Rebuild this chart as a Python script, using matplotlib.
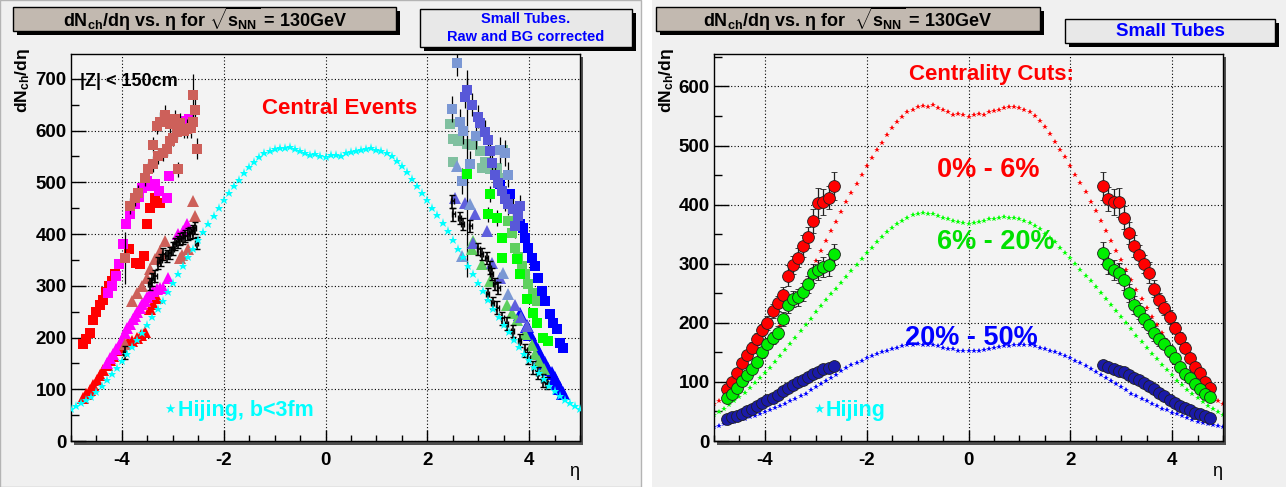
import matplotlib
matplotlib.use('Agg')
import matplotlib.pyplot as plt
from matplotlib.patches import Rectangle
import numpy as np

plt.rcParams['font.family'] = ['Liberation Sans', 'DejaVu Sans']
plt.rcParams['mathtext.fontset'] = 'custom'
plt.rcParams['mathtext.rm'] = 'Liberation Sans'
plt.rcParams['mathtext.bf'] = 'Liberation Sans:bold'
plt.rcParams['mathtext.default'] = 'bf'
plt.rcParams['axes.unicode_minus'] = False

# ---------------- data ----------------
# Hijing curves, eta = -5 .. 5 step 0.1
hij_eta = np.round(np.arange(-5, 5.001, 0.1), 1)
hij_central = [62, 67, 73, 79, 86, 95, 106, 118, 130, 142,
               155, 168, 181, 195, 209, 224, 239, 255, 271, 288,
               305, 322, 338, 355, 371, 388, 404, 420, 435, 450,
               465, 479, 492, 505, 518, 530, 540, 549, 556, 561,
               565, 567, 566, 568, 564, 560, 557, 552, 554, 551,
               549,
               552, 553, 551, 556, 558, 561, 563, 565, 566, 563,
               561, 557, 550, 541, 531, 519, 506, 493, 480, 466,
               451, 436, 421, 405, 389, 372, 356, 339, 322, 306,
               289, 272, 256, 240, 225, 210, 196, 182, 169, 156,
               143, 131, 119, 107, 96, 87, 80, 74, 68, 62]
hij_mid = [44, 49, 55, 61, 68, 75, 82, 90, 98, 106,
           115, 124, 134, 144, 154, 165, 175, 186, 197, 207,
           218, 228, 238, 248, 258, 268, 278, 288, 298, 308,
           318, 327, 336, 345, 353, 360, 367, 373, 378, 382,
           385, 386, 384, 385, 381, 378, 376, 372, 370, 369,
           368,
           369, 371, 373, 375, 376, 378, 379, 378, 377, 375,
           373, 369, 364, 358, 351, 344, 336, 327, 318, 309,
           300, 290, 280, 270, 260, 250, 240, 230, 220, 210,
           199, 189, 178, 168, 158, 148, 138, 129, 120, 111,
           102, 94, 86, 79, 72, 66, 60, 54, 49, 44]
hij_per = [24, 26, 28, 30, 32, 35, 37, 40, 43, 46,
           49, 52, 56, 59, 63, 67, 71, 76, 80, 86,
           92, 97, 102, 107, 112, 118, 123, 128, 132, 136,
           140, 144, 147, 150, 153, 156, 158, 160, 162, 163,
           164, 163, 163, 162, 160, 158, 156, 155, 153, 152,
           152,
           152, 153, 154, 156, 157, 159, 160, 161, 162, 163,
           163, 162, 160, 158, 156, 153, 150, 147, 144, 140,
           136, 132, 127, 122, 117, 112, 107, 102, 97, 92,
           86, 80, 76, 71, 67, 63, 59, 55, 52, 48,
           45, 42, 39, 36, 33, 31, 29, 27, 25, 23]

# left panel, eta < 0
red_sq_eta = [-4.77, -4.70, -4.63, -4.56, -4.50, -4.44, -4.38, -4.32, -4.26, -4.20, -4.14,
              -3.86, -3.72, -3.65, -3.56, -3.50, -3.45, -3.35, -3.26]
red_sq_val = [188, 198, 208, 233, 250, 263, 272, 288, 300, 310, 322,
              372, 345, 342, 358, 420, 450, 469, 460]
mag_sq_eta = [-4.27, -4.20, -4.12, -4.05, -3.97, -3.91, -3.84, -3.74, -3.66, -3.61, -3.51,
              -3.42, -3.35, -3.28, -3.12, -3.08, -2.80, -2.68]
mag_sq_val = [287, 300, 318, 342, 380, 419, 438, 458, 472, 489, 502,
              492, 496, 483, 469, 512, 618, 622]
brn_sq_eta = [-3.93, -3.84, -3.74, -3.69, -3.55, -3.49, -3.39, -3.39, -3.31, -3.29, -3.25, -3.19,
              -3.16, -3.12, -3.06, -3.05, -3.00, -2.95, -2.92, -2.90, -2.85, -2.78, -2.72,
              -2.65, -2.60, -2.57, -2.53, -2.60]
brn_sq_val = [354, 454, 469, 479, 508, 525, 535, 573, 608, 550, 617, 556,
              631, 565, 579, 612, 585, 622, 598, 525, 615, 600, 604,
              605, 617, 640, 565, 669]
brn_sq_err = [50, 15, 15, 15, 15, 15, 15, 15, 15, 15, 18, 15,
              18, 15, 15, 18, 15, 18, 15, 15, 18, 15, 18,
              20, 20, 22, 20, 40]
red_tri_eta = [-4.77, -4.70, -4.63, -4.56, -4.49, -4.43, -4.37, -4.30, -4.24, -4.17, -4.10,
               -4.04, -3.98, -3.88, -3.80, -3.71, -3.62, -3.55, -3.45, -3.38, -3.31]
red_tri_val = [83, 90, 98, 108, 117, 127, 137, 146, 156, 165, 175,
               182, 188, 192, 194, 200, 205, 210, 255, 265, 277]
mag_tri_eta = [-4.29, -4.24, -4.18, -4.11, -4.04, -3.99, -3.94, -3.89, -3.84, -3.79, -3.74,
               -3.70, -3.65, -3.60, -3.55, -3.50, -3.45, -3.38, -3.31, -3.25, -3.19, -3.10,
               -2.90, -2.80, -2.72]
mag_tri_val = [150, 160, 169, 178, 188, 198, 208, 218, 227, 235, 242,
               250, 258, 265, 271, 278, 285, 290, 294, 295, 296, 315,
               400, 406, 419]
brn_tri_eta = [-3.94, -3.80, -3.71, -3.61, -3.51, -3.45, -3.35, -3.25, -3.25, -3.16,
               -2.86, -2.82, -2.70, -2.60, -2.57]
brn_tri_val = [188, 271, 287, 300, 315, 332, 352, 367, 361, 387,
               354, 360, 371, 463, 435]
blk_l_eta = [-3.94, -3.45, -3.40, -3.35, -3.29, -3.24, -3.19, -3.12, -3.06, -3.00,
             -2.96, -2.90, -2.86, -2.80, -2.76, -2.70, -2.66, -2.61, -2.57, -2.53]
blk_l_val = [171, 304, 312, 319, 344, 350, 361, 358, 363, 372,
             381, 385, 390, 392, 396, 400, 402, 405, 412, 383]

# left panel, eta > 0
blu_sq_eta = [3.43, 3.62, 3.82, 3.88, 3.92, 3.98, 4.05, 4.11, 4.17, 4.25, 4.31, 4.41,
              4.47, 4.55, 4.61, 4.67]
blu_sq_val = [496, 477, 419, 412, 392, 373, 354, 338, 315, 290, 271, 246,
              229, 217, 190, 179]
sla_sq_eta = [2.74, 2.78, 2.88, 3.00, 3.03, 3.13, 3.19, 3.23, 3.27, 3.33, 3.39, 3.47,
              3.53, 3.59, 3.69, 3.72, 3.78, 3.82]
sla_sq_val = [665, 679, 650, 627, 614, 598, 582, 560, 537, 515, 498, 483,
              467, 458, 448, 415, 435, 454]
lsb_sq_eta = [2.58, 2.49, 2.64, 2.68, 2.70, 2.84, 2.95, 3.43, 3.53, 3.59]
lsb_sq_val = [731, 642, 617, 502, 600, 535, 590, 563, 556, 515]
lim_sq_eta = [2.78, 3.23, 3.19, 3.37, 3.47, 3.47, 3.76, 3.82, 3.96, 4.08, 4.16, 4.27, 4.37]
lim_sq_val = [517, 477, 438, 431, 392, 354, 352, 323, 275, 248, 229, 200, 194]
lim_sq_err = [200, 15, 15, 15, 0, 0, 0, 0, 0, 0, 0, 0, 0]
mgr_sq_eta = [3.59, 3.66, 3.72, 3.79, 3.86, 3.92, 3.98, 4.08, 4.16]
mgr_sq_val = [425, 402, 373, 355, 338, 323, 304, 287, 271]
sgr_sq_eta = [2.45, 2.51, 2.51, 2.60, 2.78, 2.90, 3.03, 3.07, 3.13, 3.23, 3.37, 3.43, 3.49]
sgr_sq_val = [613, 583, 540, 579, 575, 573, 560, 527, 540, 525, 527, 508, 563]
lsb_tri_eta = [2.58, 2.68, 2.84, 3.49, 3.59]
lsb_tri_val = [531, 358, 458, 325, 284]
sla_tri_eta = [2.55, 2.74, 2.90, 2.94, 3.17, 3.27, 3.43, 3.72, 3.85, 3.95]
sla_tri_val = [469, 460, 383, 438, 406, 344, 315, 262, 240, 222]
grn_tri_eta = [2.88, 2.90, 3.07, 3.23, 3.56, 3.66, 3.76, 3.92, 4.05, 4.11, 4.20, 4.30]
grn_tri_val = [371, 387, 342, 310, 262, 248, 233, 207, 185, 169, 155, 140]
blu_tri_eta = [3.82, 3.95, 4.02, 4.10, 4.17, 4.24, 4.31, 4.38, 4.45, 4.50, 4.55, 4.61, 4.67]
blu_tri_val = [245, 222, 207, 190, 175, 162, 150, 140, 131, 121, 112, 102, 92]
blk_r_eta = [2.49, 2.51, 2.64, 2.70, 2.84, 3.00, 3.07, 3.17, 3.23, 3.27, 3.33, 3.39, 3.19,
             3.29, 3.37, 3.47, 3.56, 3.68, 3.82, 3.92, 3.98, 4.08, 4.17, 4.27, 4.35]
blk_r_val = [463, 438, 431, 419, 415, 371, 361, 354, 335, 323, 304, 296, 284,
             267, 258, 237, 227, 213, 194, 175, 160, 142, 131, 117, 112]

# right panel, centrality cuts (small tubes)
cut_eta_l = np.round(np.linspace(-4.75, -2.65, 22), 2)
cut_eta_r = np.round(np.linspace(2.65, 4.75, 22), 2)
c06_l = [88, 100, 115, 132, 145, 158, 172, 188, 200, 220, 233,
         247, 280, 298, 310, 330, 345, 372, 403, 405, 412, 432]
c06_r = [432, 410, 405, 404, 378, 352, 330, 315, 300, 285, 258,
         238, 225, 210, 192, 175, 158, 140, 126, 115, 100, 90]
c06_err = [6, 6, 7, 8, 8, 9, 10, 10, 12, 12, 13,
           14, 18, 15, 16, 18, 18, 20, 25, 22, 20, 24]
c620_l = [72, 80, 90, 102, 112, 122, 133, 150, 165, 175, 183,
          207, 230, 240, 243, 252, 265, 284, 290, 295, 298, 316]
c620_r = [318, 300, 290, 285, 272, 250, 230, 220, 207, 196, 182,
          172, 165, 152, 140, 126, 114, 106, 97, 88, 80, 74]
c620_err = [5, 5, 6, 6, 7, 7, 8, 9, 10, 10, 11,
            12, 13, 14, 14, 15, 15, 16, 17, 17, 18, 18]
c2050_l = [38, 40, 43, 46, 50, 55, 60, 65, 69, 73, 78,
           84, 89, 94, 100, 104, 108, 113, 117, 122, 124, 127]
c2050_r = [128, 126, 122, 119, 116, 112, 107, 103, 98, 93, 88,
           82, 76, 70, 65, 60, 56, 52, 48, 45, 42, 39]
c2050_err = 4

# ---------------- figure ----------------
W, H = 1286, 487
fig = plt.figure(figsize=(W / 100, H / 100), dpi=100, facecolor='white')


def fx(x):
    return x / W


def fy(y):
    return 1 - y / H


def rect(x0, y0, x1, y1, fc, ec='none', lw=0, z=1):
    fig.patches.append(Rectangle((fx(x0), fy(y1)), (x1 - x0) / W, (y1 - y0) / H,
                                 transform=fig.transFigure, fc=fc, ec=ec, lw=lw, zorder=z))


def box(x0, y0, x1, y1, fc):
    rect(x0 + 4, y0 + 4, x1 + 4, y1 + 4, 'black', z=1)
    rect(x0, y0, x1, y1, fc, ec='black', lw=1, z=2)


# pads
rect(0, 0, 641, 487, '#f0f0f0', ec='#b4b4b4', lw=1, z=-10)
rect(652, 0, 1286, 487, '#f0f0f0', z=-10)

axL = fig.add_axes([fx(71), fy(441), 509 / W, 387 / H])
axR = fig.add_axes([fx(714), fy(441), 509 / W, 387 / H])


def style(ax, ymax, x0):
    ax.set_xlim(-5, 5)
    ax.set_ylim(0, ymax)
    ax.set_facecolor('#f3f3f3')
    ax.set_xticks([-4, -2, 0, 2, 4])
    ax.set_xticks(np.arange(-5, 5.01, 0.5), minor=True)
    ax.set_yticks(np.arange(0, ymax, 100))
    ax.set_yticks(np.arange(0, ymax, 50), minor=True)
    ax.tick_params(axis='x', which='major', direction='in', length=8, width=1, pad=8,
                   labelsize=13.5, top=False)
    ax.tick_params(axis='x', which='minor', direction='in', length=4.3, width=1, top=False)
    ax.tick_params(axis='y', which='major', direction='in', length=10.8, width=1, pad=3,
                   labelsize=13.5, right=False)
    ax.tick_params(axis='y', which='minor', direction='in', length=5.8, width=1, right=False)
    for lab in ax.get_xticklabels() + ax.get_yticklabels():
        lab.set_fontweight('bold')
    ax.grid(True, which='major', ls=(0, (1, 2)), color='black', lw=0.8)
    ax.set_axisbelow(True)
    for s in ax.spines.values():
        s.set_linewidth(1)
    # frame shadow (bottom and right)
    rect(x0 + 3, 441, x0 + 512, 445, '#505050', z=-5)
    rect(x0 + 509, 57, x0 + 512, 445, '#505050', z=-5)
    fig.text(fx(x0 + 508), fy(472), 'η', fontsize=13, ha='right', va='center')
    fig.text(fx(x0 - 48), fy(48), 'dN$_{ch}$/dη', rotation=90, fontsize=12.5,
             fontweight='bold', ha='center', va='top')


style(axL, 748, 71)
style(axR, 655, 714)

# titles and info boxes
box(13, 7, 396, 31, '#c2b9b0')
fig.text(fx(205), fy(19), 'dN$_{ch}$/dη vs. η for $\\sqrt{s_{NN}}$ = 130GeV',
         fontsize=13, fontweight='bold', ha='center', va='center')
box(420, 9, 632, 47, '#e8e8e8')
fig.text(fx(526), fy(19), 'Small Tubes.', fontsize=10.5, fontweight='bold',
         color='#0000ff', ha='center', va='center')
fig.text(fx(526), fy(37), 'Raw and BG corrected', fontsize=10.5, fontweight='bold',
         color='#0000ff', ha='center', va='center')
box(656, 7, 1040, 31, '#c2b9b0')
fig.text(fx(848), fy(19), 'dN$_{ch}$/dη vs. η for  $\\sqrt{s_{NN}}$ = 130GeV',
         fontsize=13, fontweight='bold', ha='center', va='center')
box(1065, 19, 1275, 43, '#e8e8e8')
fig.text(fx(1170), fy(32), 'Small Tubes', fontsize=13.5, fontweight='bold',
         color='#0000ff', ha='center', va='center')

# ---------------- left panel ----------------
ms_sq, ms_tri = 7.5, 9
axL.plot(red_tri_eta, red_tri_val, '^', color='#ff0000', ms=ms_tri, mew=0, zorder=3)
axL.plot(mag_tri_eta, mag_tri_val, '^', color='#ff00ff', ms=ms_tri, mew=0, zorder=3)
axL.plot(brn_tri_eta, brn_tri_val, '^', color='#cd605a', ms=ms_tri, mew=0, zorder=3)
axL.plot(red_sq_eta, red_sq_val, 's', color='#ff0000', ms=ms_sq, mew=0, zorder=3)
axL.plot(mag_sq_eta, mag_sq_val, 's', color='#ff00ff', ms=ms_sq, mew=0, zorder=3)
axL.errorbar(brn_sq_eta, brn_sq_val, yerr=brn_sq_err, fmt='s', color='#cd605a', ms=ms_sq,
             mew=0, ecolor='black', elinewidth=0.9, capsize=2.5, capthick=0.9, zorder=4)
axL.errorbar(blk_l_eta, blk_l_val, yerr=12, xerr=0.03, fmt='none', ecolor='black',
             elinewidth=1.2, capsize=2.5, capthick=1, zorder=5)

axL.plot(sgr_sq_eta, sgr_sq_val, 's', color='#80c0a0', ms=ms_sq, mew=0, zorder=3)
axL.errorbar(lsb_sq_eta, lsb_sq_val, yerr=25, fmt='s', color='#7b98d4', ms=ms_sq, mew=0,
             ecolor='black', elinewidth=0.9, capsize=2.5, capthick=0.9, zorder=3)
axL.errorbar(sla_sq_eta, sla_sq_val, yerr=22, fmt='s', color='#5858d8', ms=ms_sq, mew=0,
             ecolor='black', elinewidth=0.9, capsize=2.5, capthick=0.9, zorder=3)
axL.errorbar(lim_sq_eta, lim_sq_val, yerr=lim_sq_err, fmt='s', color='#00ff00', ms=ms_sq,
             mew=0, ecolor='black', elinewidth=0.9, capsize=2.5, capthick=0.9, zorder=3)
axL.plot(mgr_sq_eta, mgr_sq_val, 's', color='#5fcf5f', ms=ms_sq, mew=0, zorder=3)
axL.plot(blu_sq_eta, blu_sq_val, 's', color='#0000ff', ms=ms_sq, mew=0, zorder=3)
axL.plot(blu_tri_eta, blu_tri_val, '^', color='#0000ff', ms=ms_tri + 1, mew=0, zorder=3)
axL.plot(grn_tri_eta, grn_tri_val, '^', color='#5fcf5f', ms=ms_tri, mew=0, zorder=3)
axL.plot(sla_tri_eta, sla_tri_val, '^', color='#6060dd', ms=ms_tri, mew=0, zorder=3)
axL.plot(lsb_tri_eta, lsb_tri_val, '^', color='#7b98d4', ms=ms_tri, mew=0, zorder=3)
axL.errorbar(blk_r_eta, blk_r_val, yerr=12, xerr=0.03, fmt='none', ecolor='black',
             elinewidth=1.2, capsize=2.5, capthick=1, zorder=5)

axL.plot(hij_eta, hij_central, '*', color='#00ffff', ms=6.5, mew=0, zorder=6)

axL.text(0.018, 0.93, '|Z| < 150cm', transform=axL.transAxes, fontsize=13,
         fontweight='bold', ha='left', va='center')
axL.text(0.528, 0.86, 'Central Events', transform=axL.transAxes, fontsize=16,
         fontweight='bold', color='#ff0000', ha='center', va='center')
axL.text(0.195, 0.08, '★', transform=axL.transAxes, fontsize=9, color='#00ffff',
         ha='center', va='center')
axL.text(0.21, 0.08, 'Hijing, b<3fm', transform=axL.transAxes, fontsize=15.5,
         fontweight='bold', color='#00ffff', ha='left', va='center')

# ---------------- right panel ----------------
axR.plot(hij_eta, hij_central, '*', color='#ff0000', ms=3.8, mew=0, zorder=2)
axR.plot(hij_eta, hij_mid, '*', color='#00ff00', ms=3.8, mew=0, zorder=2)
axR.plot(hij_eta, hij_per, '*', color='#0000ff', ms=3.8, mew=0, zorder=2)

for l, r, err, col in [(c06_l, c06_r, c06_err, '#ff0000'),
                       (c620_l, c620_r, c620_err, '#00ee00'),
                       (c2050_l, c2050_r, c2050_err, '#1a1aa8')]:
    err_r = err[::-1] if isinstance(err, list) else err
    for eta, vals, e in [(cut_eta_l, l, err), (cut_eta_r, r, err_r)]:
        axR.errorbar(eta, vals, yerr=e, fmt='o', color=col, ms=8.5, mec='#202020',
                     mew=0.6, ecolor='#202020', elinewidth=0.9, capsize=2.5,
                     capthick=0.9, zorder=3)

axR.text(0.545, 0.947, 'Centrality Cuts:', transform=axR.transAxes, fontsize=16,
         fontweight='bold', color='#ff0000', ha='center', va='center')
axR.text(0.539, 0.70, '0% - 6%', transform=axR.transAxes, fontsize=19.5,
         fontweight='bold', color='#ff0000', ha='center', va='center')
axR.text(0.553, 0.515, '6% - 20%', transform=axR.transAxes, fontsize=19.5,
         fontweight='bold', color='#00e000', ha='center', va='center')
axR.text(0.505, 0.265, '20% - 50%', transform=axR.transAxes, fontsize=19.5,
         fontweight='bold', color='#0000ff', ha='center', va='center')
axR.text(0.205, 0.08, '★', transform=axR.transAxes, fontsize=9, color='#00ffff',
         ha='center', va='center')
axR.text(0.22, 0.08, 'Hijing', transform=axR.transAxes, fontsize=15.5,
         fontweight='bold', color='#00ffff', ha='left', va='center')

fig.savefig('out.png', dpi=100, facecolor=fig.get_facecolor())
